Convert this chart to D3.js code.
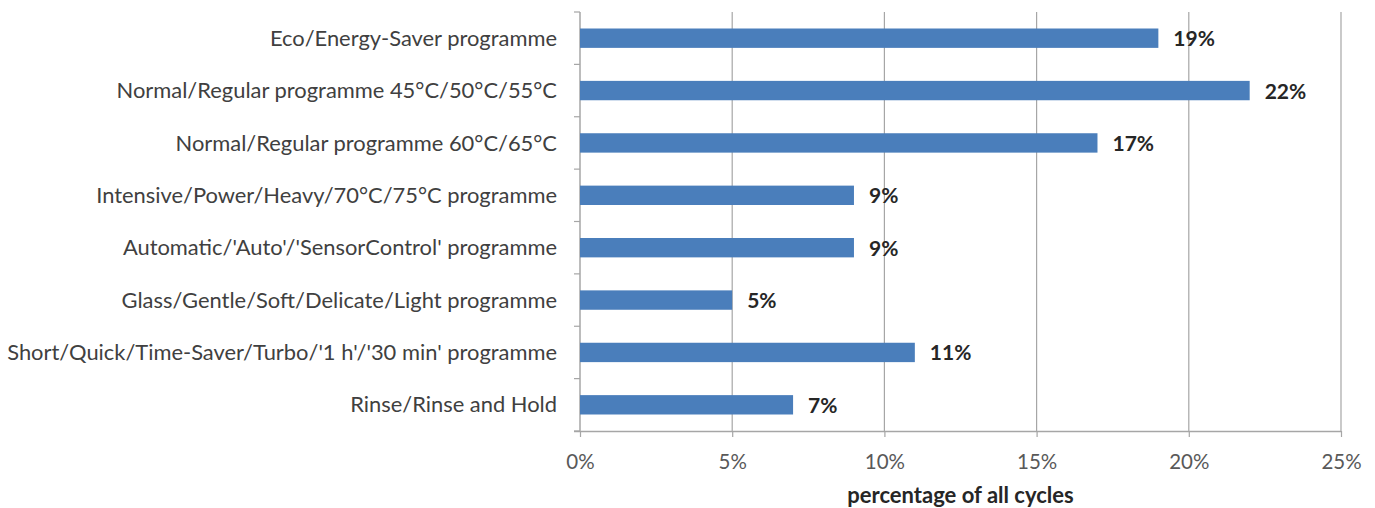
<!DOCTYPE html>
<html>
<head>
<meta charset="utf-8">
<script src="https://cdn.jsdelivr.net/npm/d3@7"></script>
<style>
  body { margin: 0; background: #fff; }
  text { font-family: Lato, "Open Sans", sans-serif; }
</style>
</head>
<body>
<svg width="1375" height="508"></svg>
<script>
var categories = [
  "Eco/Energy-Saver programme",
  "Normal/Regular programme 45°C/50°C/55°C",
  "Normal/Regular programme 60°C/65°C",
  "Intensive/Power/Heavy/70°C/75°C programme",
  "Automatic/'Auto'/'SensorControl' programme",
  "Glass/Gentle/Soft/Delicate/Light programme",
  "Short/Quick/Time-Saver/Turbo/'1 h'/'30 min' programme",
  "Rinse/Rinse and Hold"
];
var values = [19, 22, 17, 9, 9, 5, 11, 7];
var xTicks = [0, 5, 10, 15, 20, 25];
var xTitle = "percentage of all cycles";

var svg = d3.select("svg"),
    plotLeft = 580, plotRight = 1341, plotTop = 12, plotBottom = 431;

var x = d3.scaleLinear().domain([0, 25]).range([plotLeft, plotRight]);
var y = d3.scaleBand().domain(categories).range([plotTop, plotBottom]).paddingInner(0.63).paddingOuter(0.315);

// gridlines
svg.append("g").selectAll("line")
    .data(xTicks.slice(1))
    .enter().append("line")
    .attr("x1", function (d) { return x(d); })
    .attr("x2", function (d) { return x(d); })
    .attr("y1", plotTop)
    .attr("y2", plotBottom)
    .style("stroke", "#a6a6a6")
    .style("stroke-width", "1.2px");

// x axis
var xAxis = svg.append("g")
    .attr("transform", "translate(0," + plotBottom + ")")
    .call(d3.axisBottom(x).tickValues(xTicks).tickSize(6).tickPadding(17)
        .tickFormat(function (d) { return d + "%"; }));
xAxis.select(".domain").attr("d", "M" + (plotLeft - 6) + ",0.5H" + plotRight).style("stroke", "#a6a6a6").style("stroke-width", "1.5px");
xAxis.selectAll(".tick line").style("stroke", "#a6a6a6").style("stroke-width", "1.2px");
xAxis.selectAll("text")
    .style("font-size", "20.5px")
    .style("fill", "#595959")
    .style("font-family", "Lato, sans-serif");

// y axis
var yTickPos = d3.range(categories.length + 1).map(function (i) { return plotTop + i * (plotBottom - plotTop) / categories.length; });
svg.append("line")
    .attr("x1", plotLeft).attr("x2", plotLeft)
    .attr("y1", plotTop).attr("y2", plotBottom)
    .style("stroke", "#a6a6a6").style("stroke-width", "1.5px");
svg.append("g").selectAll("line")
    .data(yTickPos)
    .enter().append("line")
    .attr("x1", plotLeft - 6).attr("x2", plotLeft)
    .attr("y1", function (d) { return d; })
    .attr("y2", function (d) { return d; })
    .style("stroke", "#a6a6a6").style("stroke-width", "1.2px");

svg.append("g").selectAll("text")
    .data(categories)
    .enter().append("text")
    .attr("x", plotLeft - 23)
    .attr("y", function (d) { return y(d) + y.bandwidth() / 2; })
    .attr("dy", "0.35em")
    .attr("text-anchor", "end")
    .style("font-size", "21.9px")
    .style("fill", "#404040")
    .text(function (d) { return d; });

// bars
svg.append("g").selectAll("rect")
    .data(values)
    .enter().append("rect")
    .attr("x", x(0))
    .attr("y", function (d, i) { return y(categories[i]); })
    .attr("width", function (d) { return x(d) - x(0); })
    .attr("height", y.bandwidth())
    .style("fill", "#4a7ebb");

svg.append("g").selectAll("text")
    .data(values)
    .enter().append("text")
    .attr("x", function (d) { return x(d) + 15; })
    .attr("y", function (d, i) { return y(categories[i]) + y.bandwidth() / 2; })
    .attr("dy", "0.38em")
    .style("font-size", "21px")
    .style("font-weight", "bold")
    .style("fill", "#262626")
    .text(function (d) { return d + "%"; });

svg.append("text")
    .attr("x", (plotLeft + plotRight) / 2)
    .attr("y", 503)
    .attr("text-anchor", "middle")
    .style("font-size", "22px")
    .style("font-weight", "bold")
    .style("fill", "#262626")
    .text(xTitle);
</script>
</body>
</html>
